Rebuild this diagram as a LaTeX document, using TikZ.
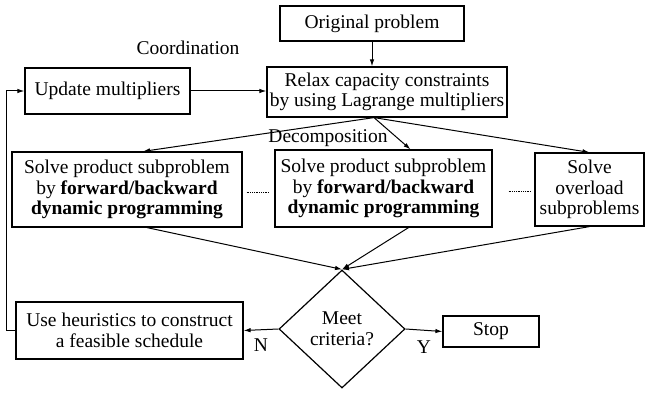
\documentclass[tikz,border=0pt]{standalone}
\usepackage{fontspec}
\setmainfont{Liberation Serif}
\usepackage{tikz}
\usetikzlibrary{arrows.meta,positioning,calc,shapes.geometric}

\begin{document}
\begin{tikzpicture}[
  x=1pt, y=-1pt,
  font=\fontsize{19.5}{20.5}\selectfont,
  box/.style={draw, line width=1.2pt, align=center, inner sep=0pt},
  cond/.style={draw, diamond, line width=1.2pt, align=center, inner sep=0pt},
  arr/.style={-{Latex[length=7pt,width=4.5pt]}, line width=1pt}
]
  \useasboundingbox (0,0) rectangle (646,395);

  \node[box, minimum width=184pt, minimum height=35pt] (orig) at (372,23.5) {Original problem};
  \node[box, minimum width=240pt, minimum height=50pt] (relax) at (387,92) {Relax capacity constraints\\by using Lagrange multipliers};
  \node[box, minimum width=165pt, minimum height=46pt] (update) at (107.5,91) {Update multipliers};
  \node (coord) at (188,48) {Coordination};

  \node[box, minimum width=230pt, minimum height=75pt] (sub1) at (127,189.5) {Solve product subproblem\\by \textbf{forward/backward}\\\textbf{dynamic programming}};
  \node[box, minimum width=217pt, minimum height=77pt] (sub2) at (383.5,188.5) {Solve product subproblem\\by \textbf{forward/backward}\\\textbf{dynamic programming}};
  \node[box, minimum width=109pt, minimum height=73pt] (sub3) at (589.5,189.5) {Solve\\overload\\subproblems};
  \node (decomp) at (328,138) {Decomposition};

  \node[cond, minimum width=126pt, minimum height=118pt] (crit) at (342,329) {Meet\\criteria?};
  \node[box, minimum width=227pt, minimum height=57pt] (heur) at (129.5,330.5) {Use heuristics to construct\\a feasible schedule};
  \node[box, minimum width=96pt, minimum height=31pt] (stop) at (491,331.5) {Stop};

  \coordinate (split) at ($(relax.south)+(-13,0)$);

  \draw[arr] (orig.south) -- (orig.south |- relax.north);
  \draw[arr] (update.east) -- (update.east -| relax.west);
  \draw[arr] (split) -- ([xshift=16pt]sub1.north);
  \draw[arr] (split) -- ([xshift=27pt]sub2.north);
  \draw[arr] (split) -- (sub3.north);
  \draw[densely dotted, line width=0.8pt, shorten <=4pt, shorten >=6pt] ([yshift=-2.5pt]sub1.east) -- ([yshift=-2.5pt]sub1.east -| sub2.west);
  \draw[densely dotted, line width=0.8pt, shorten <=16pt, shorten >=3pt] ([yshift=-2.5pt]sub2.east) -- ([yshift=-2.5pt]sub2.east -| sub3.west);
  \draw[arr] ([xshift=20pt]sub1.south) -- (crit.north);
  \draw[arr] ([xshift=25pt]sub2.south) -- (crit.north);
  \draw[arr] (sub3.south) -- (crit.north);
  \draw[arr] (crit.west) -- node[below=5pt] {N} (heur.east);
  \draw[arr] (crit.east) -- node[below=7pt] {Y} (stop.west);
  \draw[arr] (heur.west) -- ++(-9,0) |- (update.west);
\end{tikzpicture}
\end{document}
